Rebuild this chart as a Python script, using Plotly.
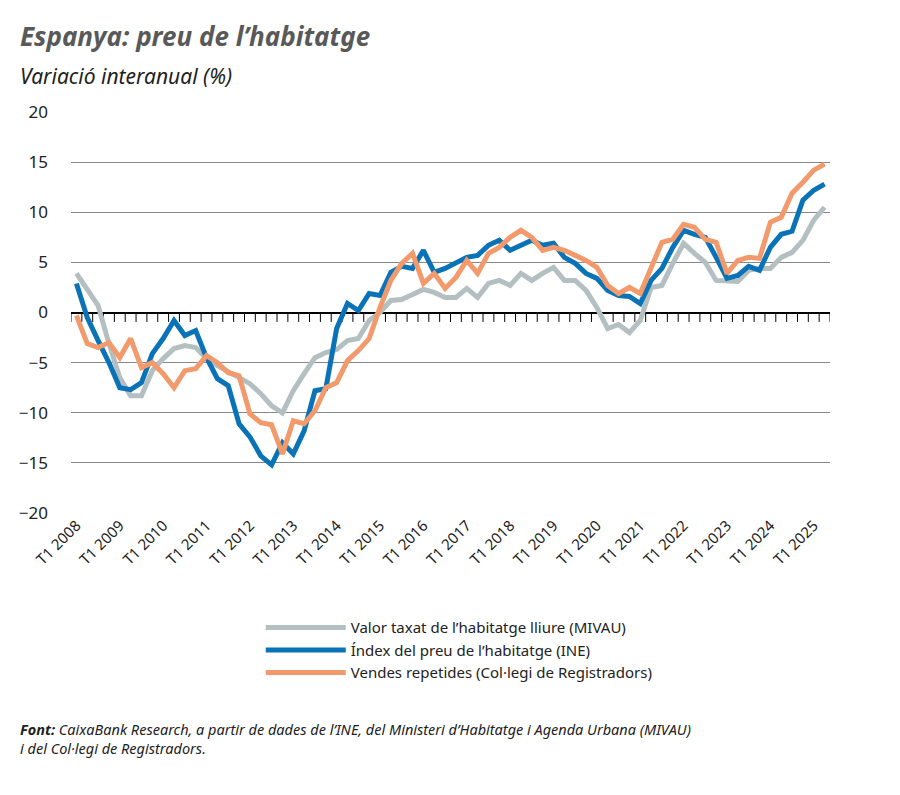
import plotly.graph_objects as go

# trimestres T1 2008 .. T2 2025
n_trim = 70
x = list(range(n_trim))
tick_pos = list(range(0, n_trim, 4))
tick_labels = [f"T1 {2008 + i}" for i in range(len(tick_pos))]

mivau = [3.9, 2.2, 0.7, -3.1, -6.5, -8.3, -8.3, -5.8, -4.6, -3.6, -3.3, -3.5,
         -4.6, -5.3, -5.9, -6.5, -7.1, -8.1, -9.3, -10.0, -7.8, -6.1, -4.5, -4.0,
         -3.7, -2.8, -2.6, -0.8, 0.0, 1.2, 1.3, 1.8, 2.3, 2.0, 1.5, 1.5,
         2.4, 1.5, 2.9, 3.2, 2.7, 3.9, 3.2, 3.9, 4.5, 3.2, 3.2, 2.2,
         0.5, -1.6, -1.2, -2.0, -0.8, 2.5, 2.7, 4.9, 6.9, 5.9, 5.0, 3.2,
         3.1, 3.1, 4.2, 4.4, 4.4, 5.5, 6.0, 7.2, 9.2, 10.5]
ine = [2.9, -0.5, -2.8, -5.0, -7.5, -7.7, -7.0, -4.1, -2.6, -0.8, -2.3, -1.8,
       -4.5, -6.6, -7.3, -11.1, -12.4, -14.3, -15.2, -13.0, -14.1, -11.8, -7.8, -7.6,
       -1.6, 0.9, 0.2, 1.9, 1.7, 4.0, 4.6, 4.4, 6.2, 4.0, 4.4, 4.9,
       5.5, 5.7, 6.7, 7.2, 6.2, 6.7, 7.2, 6.7, 6.9, 5.5, 4.9, 3.9,
       3.4, 2.2, 1.7, 1.6, 0.9, 3.2, 4.4, 6.5, 8.2, 7.8, 7.5, 5.5,
       3.4, 3.7, 4.6, 4.2, 6.5, 7.8, 8.1, 11.2, 12.2, 12.8]
registradors = [-0.3, -3.1, -3.5, -3.0, -4.5, -2.6, -5.5, -5.0, -6.1, -7.5, -5.8, -5.6,
                -4.3, -5.0, -6.0, -6.3, -10.1, -11.0, -11.2, -14.1, -10.8, -11.1, -9.8, -7.5,
                -7.0, -4.8, -3.8, -2.6, 0.5, 3.2, 4.9, 5.9, 2.9, 3.9, 2.4, 3.5,
                5.2, 3.9, 5.9, 6.5, 7.5, 8.2, 7.5, 6.2, 6.5, 6.2, 5.7, 5.2,
                4.5, 2.7, 1.9, 2.5, 1.9, 4.5, 7.0, 7.3, 8.8, 8.5, 7.3, 7.0,
                3.9, 5.2, 5.5, 5.4, 9.0, 9.5, 11.9, 13.0, 14.2, 14.8]

W, H = 900, 795
L, R, T, B = 63, 78, 104, 290

fig = go.Figure()
# petites marques sobre la línia del zero
fig.add_trace(go.Scatter(x=[i - 0.5 for i in range(n_trim + 1)], y=[-0.45] * (n_trim + 1),
                         mode="markers", showlegend=False, hoverinfo="skip",
                         marker=dict(symbol="line-ns", size=7, line=dict(width=1, color="black"))))
fig.add_trace(go.Scatter(x=x, y=mivau, mode="lines", name="Valor taxat de l’habitatge lliure (MIVAU)",
                         line=dict(color="#b3bfc1", width=5)))
fig.add_trace(go.Scatter(x=x, y=ine, mode="lines", name="Índex del preu de l’habitatge (INE)",
                         line=dict(color="#0a73b8", width=5)))
fig.add_trace(go.Scatter(x=x, y=registradors, mode="lines", name="Vendes repetides (Col·legi de Registradors)",
                         line=dict(color="#f29a6c", width=5)))


def px(xp, yp):
    # pixels -> coordenades paper
    return (xp - L) / (W - L - R), 1 - (yp - T) / (H - T - B)


tx, ty = px(10, 28)
sx, sy = px(10, 68)
fx, fy = px(10, 730)

fig.update_layout(
    width=W, height=H,
    paper_bgcolor="white", plot_bgcolor="white",
    margin=dict(l=L, r=R, t=T, b=B),
    font=dict(family="Noto Sans", size=15, color="#222"),
    xaxis=dict(range=[-0.5, n_trim - 0.5], tickmode="array", tickvals=tick_pos, ticktext=tick_labels,
               tickangle=-45, showgrid=False, zeroline=False, showline=False, ticks="",
               tickfont=dict(size=15, color="#222")),
    yaxis=dict(range=[-20, 20], dtick=5, showgrid=True, gridcolor="#888", gridwidth=1,
               zeroline=True, zerolinecolor="black", zerolinewidth=1.5, ticks="",
               tickfont=dict(size=17, color="#222"), ticklabelstandoff=22),
    legend=dict(x=0.25, y=-0.245, xanchor="left", yanchor="top", font=dict(size=15),
                itemwidth=80, tracegroupgap=0),
    showlegend=True,
    annotations=[
        dict(text="<b><i>Espanya: preu de l’habitatge</i></b>", x=tx, y=ty, xref="paper", yref="paper",
             showarrow=False, xanchor="left", yanchor="middle", font=dict(size=26, color="#595959")),
        dict(text="<i>Variació interanual (%)</i>", x=sx, y=sy, xref="paper", yref="paper", showarrow=False,
             xanchor="left", yanchor="middle", font=dict(size=21, color="#222")),
        dict(text="<b><i>Font:</i></b><i> CaixaBank Research, a partir de dades de l’INE, del Ministeri d’Habitatge i Agenda Urbana (MIVAU)<br>i del Col·legi de Registradors.</i>",
             x=fx, y=fy, xref="paper", yref="paper", showarrow=False, xanchor="left", yanchor="middle",
             align="left", font=dict(size=14.5, color="#222")),
    ],
)

fig.write_html("out.html")
